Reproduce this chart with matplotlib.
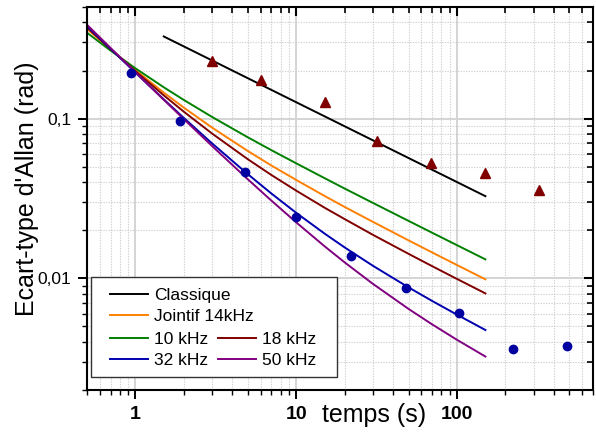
import matplotlib
matplotlib.use("Agg")
import matplotlib.pyplot as plt
from matplotlib.markers import TICKDOWN, TICKLEFT
from matplotlib.ticker import LogLocator, FixedLocator, FixedFormatter, NullFormatter
from matplotlib.patches import Rectangle

plt.rcParams['font.family'] = ['Liberation Sans', 'DejaVu Sans']

# ---- data ----
tau_classique = [1.5, 150]
sig_classique = [0.327, 0.0327]

tau_theo = [0.5, 0.7, 1, 1.5, 2, 3, 5, 7, 10, 15, 20, 30, 50, 70, 100, 150]
sig_jointif14 = [0.365, 0.2718, 0.2013, 0.1456, 0.1172, 0.0878, 0.0627, 0.0509,
                 0.0413, 0.0328, 0.0280, 0.02257, 0.01728, 0.01453, 0.01211, 0.00986]
sig_10k = [0.345, 0.2670, 0.2066, 0.1572, 0.1309, 0.1024, 0.0764, 0.0635,
           0.0525, 0.0424, 0.0365, 0.02966, 0.02288, 0.01930, 0.01612, 0.01315]
sig_18k = [0.372, 0.2729, 0.1984, 0.1400, 0.1105, 0.0806, 0.0557, 0.0444,
           0.0354, 0.0277, 0.0235, 0.01872, 0.01423, 0.01192, 0.00991, 0.00805]
sig_32k = [0.380, 0.2738, 0.1941, 0.1321, 0.1010, 0.0699, 0.0449, 0.0340,
           0.0257, 0.01907, 0.01562, 0.01198, 0.00877, 0.00722, 0.00592, 0.00475]
sig_50k = [0.387, 0.2774, 0.1952, 0.1313, 0.0993, 0.0673, 0.0417, 0.0307,
           0.0224, 0.01588, 0.01259, 0.00923, 0.00643, 0.00515, 0.00412, 0.00324]

tau_mes_classique = [3.0, 6.0, 15, 32, 69, 150, 322]
sig_mes_classique = [0.228, 0.175, 0.128, 0.0722, 0.0528, 0.0457, 0.0356]

tau_mes_jointif = [0.944, 1.90, 4.78, 9.92, 21.8, 47.9, 102.6, 223, 480]
sig_mes_jointif = [0.192, 0.0972, 0.0462, 0.0242, 0.01377, 0.0087, 0.00604, 0.00363, 0.00377]

labels = ['Classique', 'Jointif 14kHz', '10 kHz', '18 kHz', '32 kHz', '50 kHz']
xtick_vals = [1, 10, 100]
xtick_labels = ['1', '10', '100']
ytick_vals = [0.01, 0.1]
ytick_labels = ['0,01', '0,1']
xlim = (0.5, 700)
ylim = (0.002, 0.5)

# ---- figure ----
W, H = 596, 434
fig = plt.figure(figsize=(W / 100, H / 100), dpi=100)
L, R, T, B = 87, 593, 7, 390
rect = [L / W, 1 - B / H, (R - L) / W, (B - T) / H]
ax = fig.add_axes(rect)
ax.set_xscale('log')
ax.set_yscale('log')
ax.set_xlim(*xlim)
ax.set_ylim(*ylim)

lw = 1.4
h_cl, = ax.plot(tau_classique, sig_classique, color='black', lw=lw)
h_j, = ax.plot(tau_theo, sig_jointif14, color='#FF8000', lw=lw)
h10, = ax.plot(tau_theo, sig_10k, color='#008000', lw=lw)
h18, = ax.plot(tau_theo, sig_18k, color='#800000', lw=lw)
h32, = ax.plot(tau_theo, sig_32k, color='#0000B0', lw=lw)
h50, = ax.plot(tau_theo, sig_50k, color='#800080', lw=lw)

ax.plot(tau_mes_classique, sig_mes_classique, ls='none', marker='^', ms=7,
        color='#800000', zorder=4)
ax.plot(tau_mes_jointif, sig_mes_jointif, ls='none', marker='o', ms=6,
        color='#0000A0', zorder=4)

# grid
ax.grid(which='major', color='#d4d4d4', lw=1.4, ls='-', zorder=0)
ax.grid(which='minor', color='#d0d0d0', lw=0.8, ls=(0, (1.2, 1.2)), zorder=0)

# ticks of the main axes: bottom / left, outward
ax.xaxis.set_major_locator(FixedLocator(xtick_vals))
ax.xaxis.set_major_formatter(FixedFormatter(xtick_labels))
ax.xaxis.set_minor_locator(LogLocator(base=10, subs=range(2, 10)))
ax.xaxis.set_minor_formatter(NullFormatter())
ax.yaxis.set_major_locator(FixedLocator(ytick_vals))
ax.yaxis.set_major_formatter(FixedFormatter(ytick_labels))
ax.yaxis.set_minor_locator(LogLocator(base=10, subs=range(2, 10)))
ax.yaxis.set_minor_formatter(NullFormatter())

ax.tick_params(which='major', direction='out', length=6.5, width=1.4, pad=5)
ax.tick_params(which='minor', direction='out', length=3.6, width=1.0)
ax.tick_params(axis='x', which='major', labelsize=14)
ax.tick_params(axis='y', which='major', labelsize=12.5)
for t in ax.get_xticklabels():
    t.set_fontweight('bold')
for s in ax.spines.values():
    s.set_linewidth(1.5)

# inward ticks on the top and right edges, at the positions given by the
# axes' own locators, drawn as tick markers on the frame
x_minor = [v for v in ax.xaxis.get_minorticklocs() if xlim[0] <= v <= xlim[1]]
y_minor = [v for v in ax.yaxis.get_minorticklocs() if ylim[0] <= v <= ylim[1]]
x_major = [v for v in ax.xaxis.get_majorticklocs() if xlim[0] <= v <= xlim[1]]
y_major = [v for v in ax.yaxis.get_majorticklocs() if ylim[0] <= v <= ylim[1]]
tick_style = dict(ls='none', color='black', clip_on=False, zorder=10)
ax.plot(x_major, [1] * len(x_major), transform=ax.get_xaxis_transform(),
        marker=TICKDOWN, ms=6.5, mew=1.5, **tick_style)
ax.plot(x_minor, [1] * len(x_minor), transform=ax.get_xaxis_transform(),
        marker=TICKDOWN, ms=4.0, mew=1.2, **tick_style)
ax.plot([1] * len(y_major), y_major, transform=ax.get_yaxis_transform(),
        marker=TICKLEFT, ms=6.5, mew=1.5, **tick_style)
ax.plot([1] * len(y_minor), y_minor, transform=ax.get_yaxis_transform(),
        marker=TICKLEFT, ms=4.0, mew=1.2, **tick_style)
ax.set_xlim(*xlim)
ax.set_ylim(*ylim)

# axis labels
ax.set_xlabel('temps (s)', fontsize=18, va='center')
ax.xaxis.set_label_coords((374 - L) / (R - L), (B - 415) / (B - T))
ax.set_ylabel("Ecart-type d'Allan (rad)", fontsize=18, va='center')
ax.yaxis.set_label_coords((27 - L) / (R - L), (B - 189) / (B - T))

# legend frame
fx0, fx1, fy0, fy1 = 91, 337, 277, 377
ax.add_patch(Rectangle(((fx0 - L) / (R - L), (B - fy1) / (B - T)),
                       (fx1 - fx0) / (R - L), (fy1 - fy0) / (B - T),
                       transform=ax.transAxes, facecolor='white',
                       edgecolor='#333333', lw=1.0, zorder=5))

lfs = 12.5
common = dict(frameon=False, borderpad=0, borderaxespad=0, handlelength=2.2,
              handletextpad=0.35, labelspacing=0.33, fontsize=lfs,
              loc='upper left')
leg1 = ax.legend([h_cl, h_j], labels[:2],
                 bbox_to_anchor=((110 - L) / (R - L), (B - 288) / (B - T)),
                 **common)
leg1.set_zorder(6)
ax.add_artist(leg1)
leg2 = ax.legend([h10, h32, h18, h50], [labels[2], labels[4], labels[3], labels[5]],
                 ncol=2, columnspacing=0.55,
                 bbox_to_anchor=((110 - L) / (R - L), (B - 332) / (B - T)),
                 **common)
leg2.set_zorder(6)

fig.savefig('out.png', dpi=100)
